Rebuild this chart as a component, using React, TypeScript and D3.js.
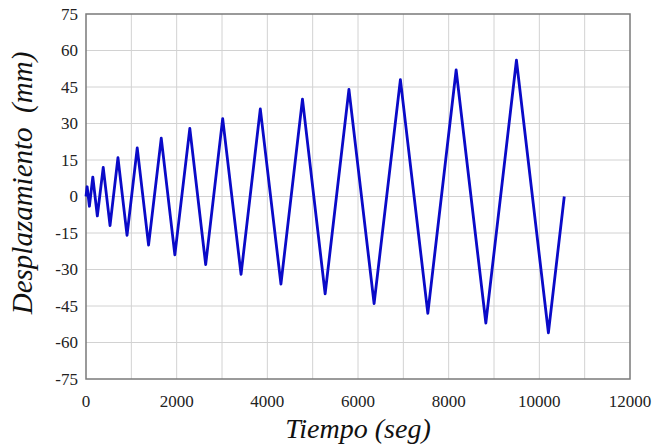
import React from "react";
import * as d3 from "d3";

// Vertex times (s) and displacements (mm)
const times = [0, 25, 75, 150, 250, 380, 530, 705, 905, 1130, 1380, 1660, 1960, 2290, 2640, 3015, 3420, 3845, 4300, 4775, 5275, 5800, 6355, 6935, 7540, 8165, 8820, 9495, 10200, 10550];
const displ = [0, 4, -4, 8, -8, 12, -12, 16, -16, 20, -20, 24, -24, 28, -28, 32, -32, 36, -36, 40, -40, 44, -44, 48, -48, 52, -52, 56, -56, 0];
const xTicks = [0, 2000, 4000, 6000, 8000, 10000, 12000];
const xGrid = [1000, 2000, 3000, 4000, 5000, 6000, 7000, 8000, 9000, 10000, 11000];
const yTicks = [-75, -60, -45, -30, -15, 0, 15, 30, 45, 60, 75];
const xTitle = "Tiempo (seg)";
const yTitle = "Desplazamiento  (mm)";

export default function App() {
  const W = 657, H = 448;
  const L = 86, R = 630, T = 14, B = 379;
  const x = d3.scaleLinear().domain([0, 12000]).range([L, R]);
  const y = d3.scaleLinear().domain([-75, 75]).range([B, T]);
  const pts = times.map((t, i) => [t, displ[i]] as [number, number]);
  const line = d3.line<[number, number]>().x(d => x(d[0])).y(d => y(d[1]));
  const font = "Liberation Serif, Times New Roman, Times, DejaVu Serif, serif";
  return (
    <svg width={W} height={H} style={{ position: "absolute", left: 0, top: 0, background: "#fff" }}>
      <rect x={0} y={0} width={W} height={H} fill="#fff" />
      {xGrid.map(v => (
        <line key={"gx" + v} x1={x(v)} x2={x(v)} y1={T} y2={B} stroke="#d2d2d2" strokeWidth={1} />
      ))}
      {yTicks.slice(1, -1).map(v => (
        <line key={"gy" + v} x1={L} x2={R} y1={y(v)} y2={y(v)} stroke="#d2d2d2" strokeWidth={1} />
      ))}
      <rect x={L} y={T} width={R - L} height={B - T} fill="none" stroke="#7a7a7a" strokeWidth={1.5} />
      <path d={line(pts) || ""} fill="none" stroke="#0a0ac8" strokeWidth={2.8} strokeLinejoin="round" />
      {yTicks.map(v => (
        <text key={"ty" + v} x={L - 8} y={y(v)} dy="0.35em" textAnchor="end" style={{ fontFamily: font, fontSize: 17 }} fill="#222">{v}</text>
      ))}
      {xTicks.map(v => (
        <text key={"tx" + v} x={x(v)} y={407} textAnchor="middle" style={{ fontFamily: font, fontSize: 17 }} fill="#222">{v}</text>
      ))}
      <text x={(L + R) / 2} y={438} textAnchor="middle" style={{ fontFamily: font, fontSize: 28, fontStyle: "italic" }} fill="#111">{xTitle}</text>
      <text transform={`translate(32,183) rotate(-90)`} textAnchor="middle" style={{ fontFamily: font, fontSize: 29, fontStyle: "italic", whiteSpace: "pre" }} fill="#111">{yTitle}</text>
    </svg>
  );
}
